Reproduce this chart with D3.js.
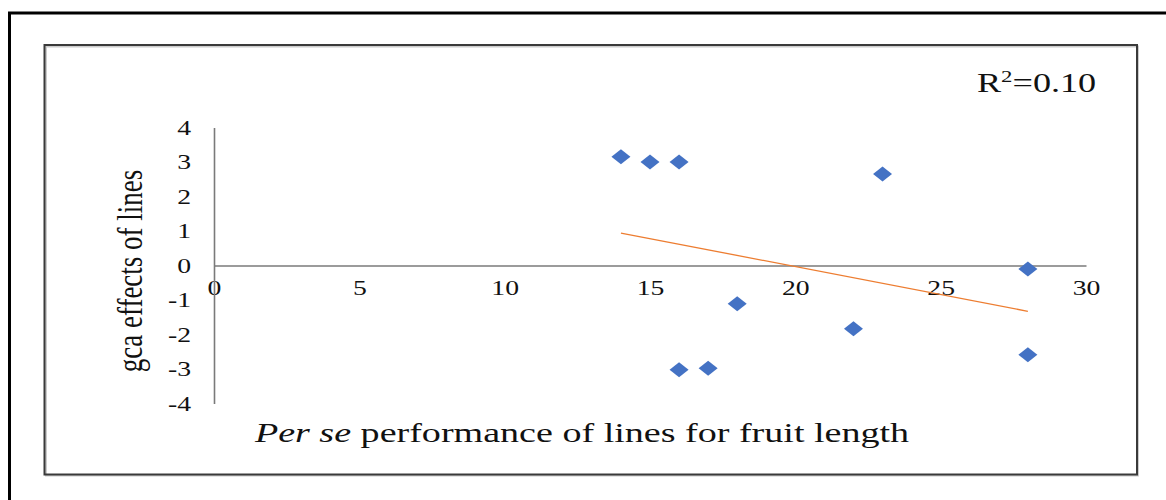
<!DOCTYPE html>
<html>
<head>
<meta charset="utf-8">
<script src="https://cdn.jsdelivr.net/npm/d3@7"></script>
<style>
  html, body { margin: 0; padding: 0; background: #fff; }
  svg { display: block; }
  text { font-family: "Liberation Serif", "Times New Roman", serif; fill: #111; }
</style>
</head>
<body>
<svg id="chart" width="1166" height="500"></svg>
<script>
// Per se performance (fruit length) of each line and its gca effect
const perSe = [14, 15, 16, 23, 28, 18, 22, 28, 16, 17];
const gca   = [3.15, 3.0, 3.0, 2.65, -0.1, -1.11, -1.83, -2.59, -3.02, -2.98];
const xTicks = [0, 5, 10, 15, 20, 25, 30];
const yTicks = [4, 3, 2, 1, 0, -1, -2, -3, -4];
const r2Label = "0.10";

// text in this figure is drawn wide (horizontally stretched glyphs)
const SX = 1.32;

const svg = d3.select("#chart");

// outer frame and chart area border
svg.append("rect").attr("x", 9.5).attr("y", 13).attr("width", 1200).attr("height", 520)
  .attr("fill", "none").attr("stroke", "#000").attr("stroke-width", 3);
svg.append("rect").attr("x", 46).attr("y", 46.5).attr("width", 1092).attr("height", 429)
  .attr("fill", "none").attr("stroke", "#ccc").attr("stroke-width", 2);
svg.append("rect").attr("x", 44.5).attr("y", 45).attr("width", 1092.5).attr("height", 429.5)
  .attr("fill", "none").attr("stroke", "#3a3a3a").attr("stroke-width", 2);

const x = d3.scaleLinear().domain([0, 30]).range([214, 1086]);
const y = d3.scaleLinear().domain([-4, 4]).range([403.5, 127.5]);
const fmt = d => String(d);

// axes crossing at the origin
const axisColor = "#7a7a7a";
const xAxis = d3.axisBottom(x).tickValues(xTicks).tickFormat(fmt).tickSize(0).tickPadding(15);
const gx = svg.append("g").attr("transform", `translate(0,${y(0)})`).call(xAxis);
gx.select(".domain").attr("stroke", axisColor).attr("stroke-width", 1.6);
gx.selectAll(".tick text").attr("font-size", 21).attr("font-family", "Liberation Serif").attr("fill", "#111")
  .attr("transform", `scale(${SX},1)`);

const yPad = 23;
const yAxis = d3.axisLeft(y).tickValues(yTicks).tickFormat(fmt).tickSize(0).tickPadding(yPad);
const gy = svg.append("g").attr("transform", `translate(${x(0)},0)`).call(yAxis);
gy.select(".domain").attr("stroke", axisColor).attr("stroke-width", 1.6);
gy.selectAll(".tick text").attr("font-size", 21).attr("font-family", "Liberation Serif").attr("fill", "#111")
  .attr("transform", `translate(${-yPad},0) scale(${SX},1) translate(${yPad},0)`);

// least-squares trend line over the data range
const n = perSe.length;
const mx = d3.mean(perSe), my = d3.mean(gca);
let sxy = 0, sxx = 0;
for (let i = 0; i < n; i++) { sxy += (perSe[i] - mx) * (gca[i] - my); sxx += (perSe[i] - mx) ** 2; }
const slope = sxy / sxx, icpt = my - slope * mx;
const [xmin, xmax] = d3.extent(perSe);
svg.append("line")
  .attr("x1", x(xmin)).attr("y1", y(icpt + slope * xmin))
  .attr("x2", x(xmax)).attr("y2", y(icpt + slope * xmax))
  .attr("stroke", "#ED7D31").attr("stroke-width", 1.3);

// diamond markers
const pts = perSe.map((v, i) => ({ px: v, gy: gca[i] }));
svg.append("g").selectAll("path").data(pts).join("path")
  .attr("transform", d => `translate(${x(d.px)},${y(d.gy)})`)
  .attr("d", "M0,-7.5L9.5,0L0,7.5L-9.5,0Z")
  .attr("fill", "#4472C4");

// titles
svg.append("text")
  .attr("transform", `translate(142,271) scale(${SX},1) rotate(-90)`)
  .attr("text-anchor", "middle").attr("font-size", 27)
  .text("gca effects of lines");

const xt = svg.append("text")
  .attr("transform", `translate(582,442) scale(1.36,1)`)
  .attr("text-anchor", "middle").attr("font-size", 28);
xt.append("tspan").attr("font-style", "italic").text("Per se");
xt.append("tspan").text(" performance of lines for fruit length");

const r2 = svg.append("text")
  .attr("transform", `translate(977,92) scale(1.34,1)`)
  .attr("font-size", 27);
r2.append("tspan").text("R");
r2.append("tspan").attr("font-size", 17).attr("dy", -10).text("2");
r2.append("tspan").attr("dy", 10).text("=" + r2Label);
</script>
</body>
</html>
